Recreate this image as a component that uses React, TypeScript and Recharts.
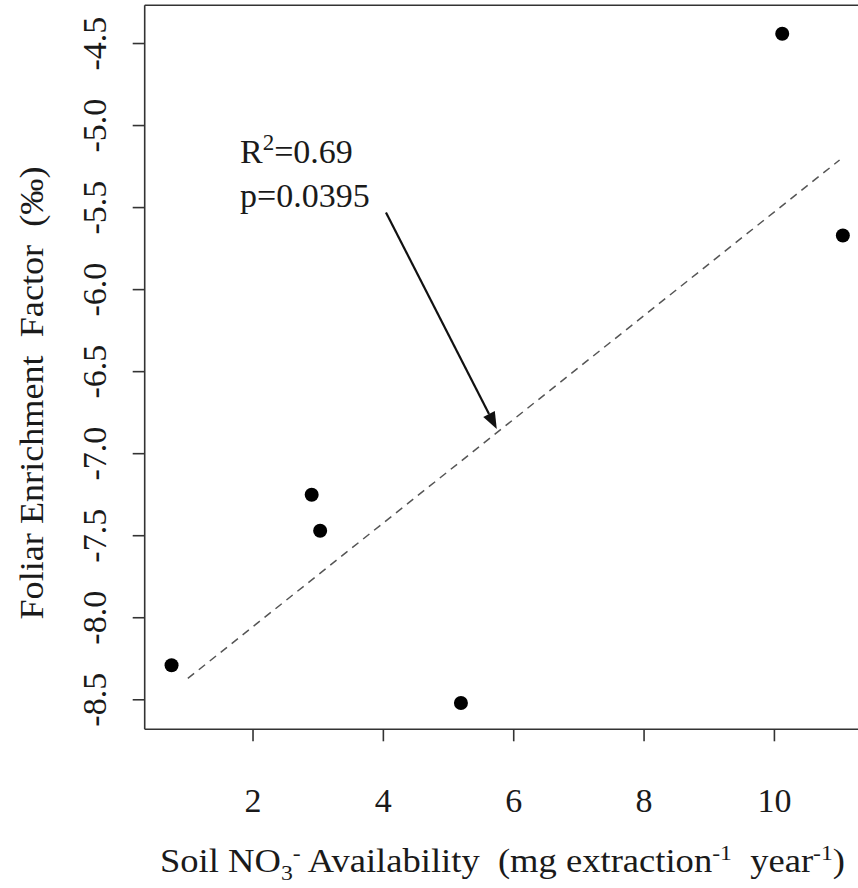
import React from 'react';
import { ScatterChart, Scatter, XAxis, YAxis, ReferenceLine, ReferenceDot } from 'recharts';

// ---- data ----
const soilNO3 = [0.75, 2.9, 3.03, 5.19, 10.12, 11.05];
const enrichment = [-8.29, -7.25, -7.47, -8.52, -4.44, -5.67];
const fitX = [1.0, 11.0];
const fitY = [-8.37, -5.21];
const xTicks = [2, 4, 6, 8, 10];
const yTicks = [-8.5, -8.0, -7.5, -7.0, -6.5, -6.0, -5.5, -5.0, -4.5];
const xDomain = [0.338, 11.462];
const yDomain = [-8.68, -4.267];
const arrowFrom = { x: 4.04, y: -5.53 };
const arrowTo = { x: 5.74, y: -6.85 };
const annotAt = { x: 1.8, y: -5.23 };
const r2Text = '0.69';
const pText = 'p=0.0395';

const points = soilNO3.map((x, i) => ({ x, y: enrichment[i] }));
const fitLine = fitX.map((x, i) => ({ x, y: fitY[i] }));

const FONT = '"Liberation Serif", "Times New Roman", serif';
const TXT = '#1a1a1a';
const AXIS = '#333';
const FS = 34;

const XTick = (props: any) => {
  const { x, payload } = props;
  return (
    <text x={x} y={812} textAnchor="middle" fontFamily={FONT} fontSize={FS} fill={TXT}>
      {String(payload.value)}
    </text>
  );
};

const YTick = (props: any) => {
  const { y, payload } = props;
  const bx = 106;
  return (
    <text
      x={bx}
      y={y}
      transform={`rotate(-90 ${bx} ${y})`}
      textAnchor="middle"
      fontFamily={FONT}
      fontSize={FS}
      fill={TXT}
    >
      {Number(payload.value).toFixed(1)}
    </text>
  );
};

const XTitle = () => (
  <text
    x={160}
    y={872}
    fontFamily={FONT}
    fontSize={FS}
    fill={TXT}
    textLength={685}
    lengthAdjust="spacingAndGlyphs"
    style={{ whiteSpace: 'pre' }}
  >
    Soil NO
    <tspan fontSize={22} dy={8}>3</tspan>
    <tspan fontSize={22} dy={-20}>-</tspan>
    <tspan fontSize={FS} dy={12}>{' Availability  (mg extraction'}</tspan>
    <tspan fontSize={22} dy={-12}>-1</tspan>
    <tspan fontSize={FS} dy={12}>{'  year'}</tspan>
    <tspan fontSize={22} dy={-12}>-1</tspan>
    <tspan fontSize={FS} dy={12}>)</tspan>
  </text>
);

const YTitle = () => {
  const bx = 43;
  const cy = 393;
  return (
    <text
      x={bx}
      y={cy}
      transform={`rotate(-90 ${bx} ${cy})`}
      textAnchor="middle"
      fontFamily={FONT}
      fontSize={FS}
      fill={TXT}
      textLength={453}
      lengthAdjust="spacingAndGlyphs"
      style={{ whiteSpace: 'pre' }}
    >
      {'Foliar Enrichment  Factor  (‰)'}
    </text>
  );
};

const Dot = (props: any) => <circle cx={props.cx} cy={props.cy} r={7} fill="#000" />;
const NoDot = () => <g />;

const Arrow = (props: any) => {
  const { x1, y1, x2, y2 } = props;
  const dx = x2 - x1;
  const dy = y2 - y1;
  const len = Math.sqrt(dx * dx + dy * dy);
  const ux = dx / len;
  const uy = dy / len;
  const hl = 17;
  const hw = 6.5;
  const bx = x2 - ux * hl;
  const by = y2 - uy * hl;
  const px = -uy;
  const py = ux;
  return (
    <g>
      <line x1={x1} y1={y1} x2={bx} y2={by} stroke="#111" strokeWidth={2.2} />
      <polygon
        points={`${x2},${y2} ${bx + px * hw},${by + py * hw} ${bx - px * hw},${by - py * hw}`}
        fill="#111"
      />
    </g>
  );
};

const Annotation = (props: any) => {
  const { cx, cy } = props;
  return (
    <g fontFamily={FONT} fontSize={FS} fill={TXT}>
      <text x={cx} y={cy}>
        R<tspan fontSize={23} dy={-13}>2</tspan>
        <tspan fontSize={FS} dy={13}>{'=' + r2Text}</tspan>
      </text>
      <text x={cx} y={cy + 43.4}>{pText}</text>
    </g>
  );
};

export default function App() {
  return (
    <div
      style={{
        position: 'fixed',
        left: 0,
        top: 0,
        width: 858,
        height: 888,
        overflow: 'hidden',
        background: '#fff',
      }}
    >
      <ScatterChart
        width={880}
        height={888}
        margin={{ top: 5.3, right: 10.3, bottom: 0, left: 0 }}
      >
        <XAxis
          type="number"
          dataKey="x"
          domain={xDomain}
          allowDataOverflow
          ticks={xTicks}
          tick={<XTick />}
          tickSize={12}
          tickLine={{ stroke: AXIS, strokeWidth: 1.6 }}
          axisLine={{ stroke: AXIS, strokeWidth: 1.6 }}
          height={158.7}
          label={() => <XTitle />}
        />
        <YAxis
          type="number"
          dataKey="y"
          domain={yDomain}
          allowDataOverflow
          ticks={yTicks}
          tick={<YTick />}
          tickSize={12}
          tickLine={{ stroke: AXIS, strokeWidth: 1.6 }}
          axisLine={{ stroke: AXIS, strokeWidth: 1.6 }}
          width={144.7}
          label={() => <YTitle />}
        />
        <ReferenceLine y={yDomain[1]} stroke={AXIS} strokeWidth={1.6} />
        <ReferenceLine x={xDomain[1]} stroke={AXIS} strokeWidth={1.6} />
        <Scatter
          data={fitLine}
          line={{ stroke: '#555', strokeWidth: 1.5, strokeDasharray: '8 6' }}
          shape={NoDot}
          isAnimationActive={false}
        />
        <Scatter data={points} shape={Dot} fill="#000" isAnimationActive={false} />
        <ReferenceLine
          segment={[arrowFrom, arrowTo]}
          shape={Arrow}
          stroke="#111"
        />
        <ReferenceDot x={annotAt.x} y={annotAt.y} r={0} shape={Annotation} />
      </ScatterChart>
    </div>
  );
}
